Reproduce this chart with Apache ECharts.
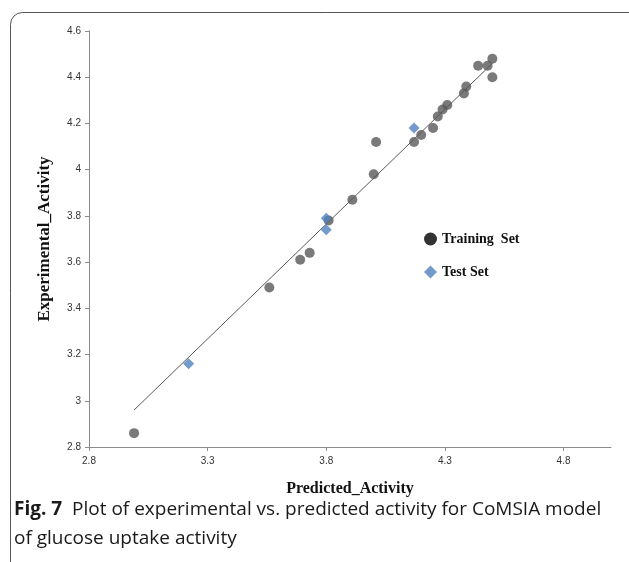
<!DOCTYPE html>
<html>
<head>
<meta charset="utf-8">
<script src="https://cdn.jsdelivr.net/npm/echarts@6/dist/echarts.min.js"></script>
<style>html,body{margin:0;padding:0;background:#fff;}#c{width:629px;height:562px;}</style>
</head>
<body>
<div id="c"></div>
<script>
// Training set: [predicted, experimental]
const trainingSet = [
  [2.99, 2.86], [3.56, 3.49], [3.69, 3.61], [3.73, 3.64], [3.81, 3.78],
  [3.91, 3.87], [4.00, 3.98], [4.01, 4.12], [4.17, 4.12], [4.20, 4.15],
  [4.25, 4.18], [4.27, 4.23], [4.29, 4.26], [4.31, 4.28], [4.38, 4.33],
  [4.39, 4.36], [4.44, 4.45], [4.48, 4.45], [4.50, 4.48], [4.50, 4.40]
];
// Test set: [predicted, experimental]
const testSet = [
  [3.22, 3.16], [3.80, 3.79], [3.80, 3.74], [4.17, 4.18]
];
// Regression line end points
const fitLine = [[2.99, 2.96], [4.50, 4.46]];
const xTicks = [2.8, 3.3, 3.8, 4.3, 4.8];
const seriesNames = ['Training  Set', 'Test Set'];
const xTitle = 'Predicted_Activity';
const yTitle = 'Experimental_Activity';

const chart = echarts.init(document.getElementById('c'), null, {renderer: 'canvas'});
const serif = '"Liberation Serif", "Times New Roman", serif';
const sans = '"Liberation Sans", Arial, sans-serif';
chart.setOption({
  animation: false,
  backgroundColor: '#fff',
  grid: {left: 89, right: 18, top: 31, bottom: 115, containLabel: false},
  xAxis: {
    type: 'value', min: 2.8, max: 5.0, interval: 0.5,
    axisLine: {show: true, lineStyle: {color: '#8c8c8c', width: 1}},
    axisTick: {show: true, length: 4, customValues: xTicks, lineStyle: {color: '#8c8c8c'}},
    axisLabel: {customValues: xTicks, color: '#333', fontFamily: sans, fontSize: 10, margin: 9},
    splitLine: {show: false},
    name: xTitle, nameLocation: 'middle', nameGap: 34,
    nameTextStyle: {fontFamily: serif, fontWeight: 'bold', fontSize: 16, color: '#111'}
  },
  yAxis: {
    type: 'value', min: 2.8, max: 4.6, interval: 0.2,
    axisLine: {show: true, lineStyle: {color: '#8c8c8c', width: 1}},
    axisTick: {show: true, length: 4, lineStyle: {color: '#8c8c8c'}},
    axisLabel: {color: '#333', fontFamily: sans, fontSize: 10, margin: 8},
    splitLine: {show: false},
    name: yTitle, nameLocation: 'middle', nameGap: 36, nameRotate: 90,
    nameTextStyle: {fontFamily: serif, fontWeight: 'bold', fontSize: 17, color: '#111'}
  },
  legend: {
    orient: 'vertical', left: 419, top: 227, itemWidth: 13, itemHeight: 13, itemGap: 19,
    textStyle: {fontFamily: serif, fontWeight: 'bold', fontSize: 14, color: '#111'},
    data: [
      {name: seriesNames[0], icon: 'circle', itemStyle: {color: '#000'}},
      {name: seriesNames[1], icon: 'diamond', itemStyle: {color: '#4f81bd'}}
    ]
  },
  series: [
    {
      type: 'line', data: fitLine, showSymbol: false, symbol: 'none', silent: true,
      lineStyle: {color: '#5a5a5a', width: 1}, z: 1
    },
    {
      name: seriesNames[0], type: 'scatter', data: trainingSet, symbol: 'circle', symbolSize: 10,
      itemStyle: {color: '#595959'}, z: 3
    },
    {
      name: seriesNames[1], type: 'scatter', data: testSet, symbol: 'diamond', symbolSize: 11,
      itemStyle: {color: '#4f81bd'}, z: 4
    }
  ],
  graphic: [
    {type: 'rect', shape: {x: 10.5, y: 12.5, width: 640, height: 600, r: 12}, style: {fill: 'none', stroke: '#555', lineWidth: 1}, z: -1},
    {type: 'text', left: 14, top: 495, style: {
      text: '{b|Fig. 7}  Plot of experimental vs. predicted activity for CoMSIA model\nof glucose uptake activity',
      rich: {b: {fontWeight: 'bold', fontSize: 19, fontFamily: '"Open Sans", sans-serif', fill: '#1a1a1a'}},
      font: '19px "Open Sans", sans-serif', fill: '#1a1a1a', lineHeight: 29
    }}
  ]
});
</script>
</body>
</html>
